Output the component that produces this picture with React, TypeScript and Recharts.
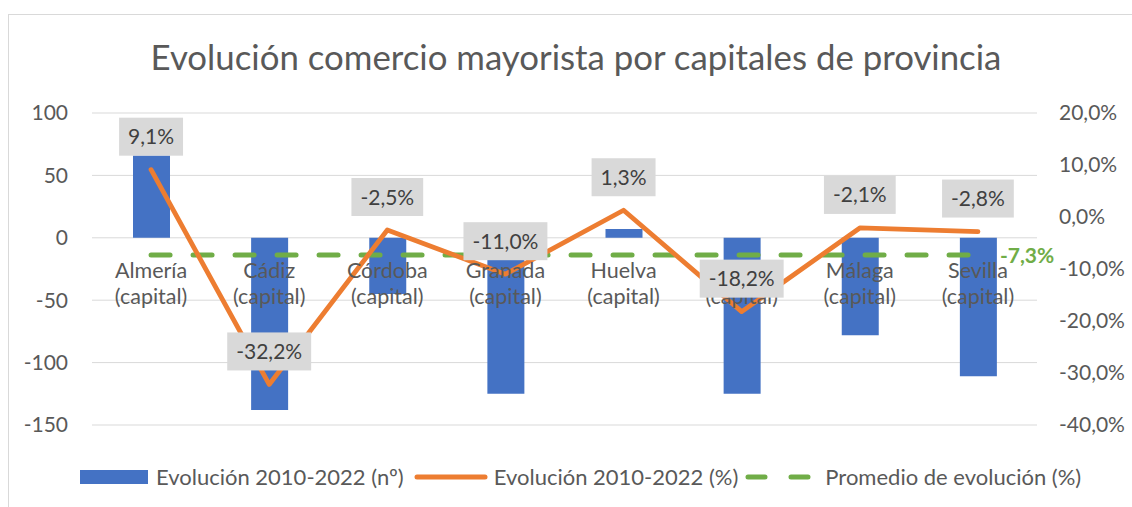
import React from 'react';
import { ComposedChart, Bar, Line, XAxis, YAxis, CartesianGrid, LabelList, Legend } from 'recharts';

const categories = [
  'Almería (capital)',
  'Cádiz (capital)',
  'Córdoba (capital)',
  'Granada (capital)',
  'Huelva (capital)',
  'Jaén (capital)',
  'Málaga (capital)',
  'Sevilla (capital)',
];
const countValues = [66, -138, -45, -125, 7, -125, -78, -111];
const pctValues = [9.1, -32.2, -2.5, -11.0, 1.3, -18.2, -2.1, -2.8];
const avgValues = [-7.3, -7.3, -7.3, -7.3, -7.3, -7.3, -7.3, -7.3];
const leftTicks = [100, 50, 0, -50, -100, -150];
const rightTicks = [20, 10, 0, -10, -20, -30, -40];

const seriesNames = ['Evolución 2010-2022 (nº)', 'Evolución 2010-2022 (%)', 'Promedio de evolución (%)'];
const title = 'Evolución comercio mayorista por capitales de provincia';

const data = categories.map((name, i) => ({
  name,
  count: countValues[i],
  pct: pctValues[i],
  avg: avgValues[i],
}));

const FONT = 'Lato, "Open Sans", sans-serif';
const BLUE = '#4472C4';
const ORANGE = '#ED7D31';
const GREEN = '#70AD47';
const GRID = '#D9D9D9';
const TEXT = '#595959';

const fmtPct = (v: number) => v.toFixed(1).replace('.', ',') + '%';

let ctx: CanvasRenderingContext2D | null = null;
const measure = (t: string, font: string) => {
  if (!ctx) ctx = document.createElement('canvas').getContext('2d');
  if (!ctx) return t.length * 11;
  ctx.font = font;
  return ctx.measureText(t).width;
};

const CategoryLabel = (props: any) => {
  const { x, y, value } = props;
  const s = String(value);
  const k = s.indexOf(' (');
  const l1 = k >= 0 ? s.slice(0, k) : s;
  const l2 = k >= 0 ? s.slice(k + 1) : '';
  return (
    <g>
      <text x={x} y={y + 40} textAnchor="middle" fontSize={21.5} fontFamily={FONT} fill={TEXT}>{l1}</text>
      <text x={x} y={y + 66} textAnchor="middle" fontSize={21.5} fontFamily={FONT} fill={TEXT}>{l2}</text>
    </g>
  );
};

const PctLabel = (props: any) => {
  const { x, y, value } = props;
  const t = fmtPct(Number(value));
  const w = measure(t, `21px ${FONT}`) + 18;
  const cy = y - 33;
  return (
    <g>
      <rect x={x - w / 2} y={cy - 19} width={w} height={38} fill="#D9D9D9" />
      <text x={x} y={cy} dy="0.36em" textAnchor="middle" fontSize={21} fontFamily={FONT} fill="#404040">{t}</text>
    </g>
  );
};

const AvgLabel = (props: any) => {
  const { x, y, value, index } = props;
  if (index !== categories.length - 1) return null;
  return (
    <text x={x + 22} y={y} dy="0.36em" textAnchor="start" fontSize={21} fontWeight="bold" fontFamily={FONT} fill={GREEN}>
      {fmtPct(Number(value))}
    </text>
  );
};

const LegendContent = () => (
  <div style={{ display: 'flex', alignItems: 'center', fontFamily: FONT, fontSize: 22, color: TEXT, whiteSpace: 'nowrap', lineHeight: '24px' }}>
    <svg width={68} height={14} style={{ marginRight: 8 }}>
      <rect x={0} y={0} width={68} height={14} fill={BLUE} />
    </svg>
    <span>{seriesNames[0]}</span>
    <svg width={74} height={14} style={{ marginLeft: 10, marginRight: 6 }}>
      <line x1={3} y1={7} x2={71} y2={7} stroke={ORANGE} strokeWidth={5} strokeLinecap="round" />
    </svg>
    <span>{seriesNames[1]}</span>
    <svg width={68} height={14} style={{ marginLeft: 7, marginRight: 12 }}>
      <line x1={3} y1={7} x2={65} y2={7} stroke={GREEN} strokeWidth={5} strokeLinecap="round" strokeDasharray="17 26" />
    </svg>
    <span>{seriesNames[2]}</span>
  </div>
);

export default function App() {
  return (
    <div style={{ position: 'fixed', left: 0, top: 0, width: 1132, height: 507, overflow: 'hidden', background: '#fff' }}>
      <div style={{ position: 'absolute', left: 8, top: 14, width: 1140, height: 520, border: '1px solid #D9D9D9', boxSizing: 'border-box' }} />
      <svg width={1132} height={100} style={{ position: 'absolute', left: 0, top: 0 }}>
        <text x={576} y={70} textAnchor="middle" fontSize={34.8} fontFamily={FONT} fill={TEXT}>{title}</text>
      </svg>
      <div style={{ position: 'absolute', left: 0, top: 0 }}>
        <ComposedChart width={1132} height={507} data={data} margin={{ top: 113, bottom: 82, left: 32, right: 20 }}>
          <CartesianGrid yAxisId="left" vertical={false} stroke={GRID} strokeWidth={1} />
          <XAxis dataKey="name" hide />
          <YAxis
            yAxisId="left"
            width={60}
            domain={[-150, 100]}
            ticks={leftTicks}
            interval={0}
            axisLine={false}
            tickLine={false}
            tickMargin={18}
            tick={{ fontSize: 21, fontFamily: FONT, fill: TEXT }}
          />
          <YAxis
            yAxisId="right"
            orientation="right"
            width={75}
            domain={[-40, 20]}
            ticks={rightTicks}
            interval={0}
            axisLine={false}
            tickLine={false}
            tickMargin={16}
            tickFormatter={fmtPct}
            tick={{ fontSize: 21, fontFamily: FONT, fill: TEXT }}
          />
          <Bar yAxisId="left" dataKey="count" fill={BLUE} barSize={37} isAnimationActive={false} name={seriesNames[0]} />
          <Line
            yAxisId="left"
            dataKey={() => 0}
            stroke="none"
            dot={false}
            activeDot={false}
            legendType="none"
            isAnimationActive={false}
          >
            <LabelList dataKey="name" content={CategoryLabel} />
          </Line>
          <Line
            yAxisId="right"
            dataKey="avg"
            stroke={GREEN}
            strokeWidth={5}
            strokeDasharray="19 23"
            strokeLinecap="round"
            dot={false}
            activeDot={false}
            isAnimationActive={false}
            name={seriesNames[2]}
          >
            <LabelList dataKey="avg" content={AvgLabel} />
          </Line>
          <Line
            yAxisId="right"
            dataKey="pct"
            stroke={ORANGE}
            strokeWidth={4.8}
            strokeLinecap="round"
            strokeLinejoin="round"
            dot={false}
            activeDot={false}
            isAnimationActive={false}
            name={seriesNames[1]}
          >
            <LabelList dataKey="pct" content={PctLabel} />
          </Line>
          <Legend
            layout="horizontal"
            verticalAlign="middle"
            align="center"
            content={LegendContent}
            wrapperStyle={{ position: 'absolute', left: 80, top: 465, width: 1040, height: 24 }}
          />
        </ComposedChart>
      </div>
    </div>
  );
}
